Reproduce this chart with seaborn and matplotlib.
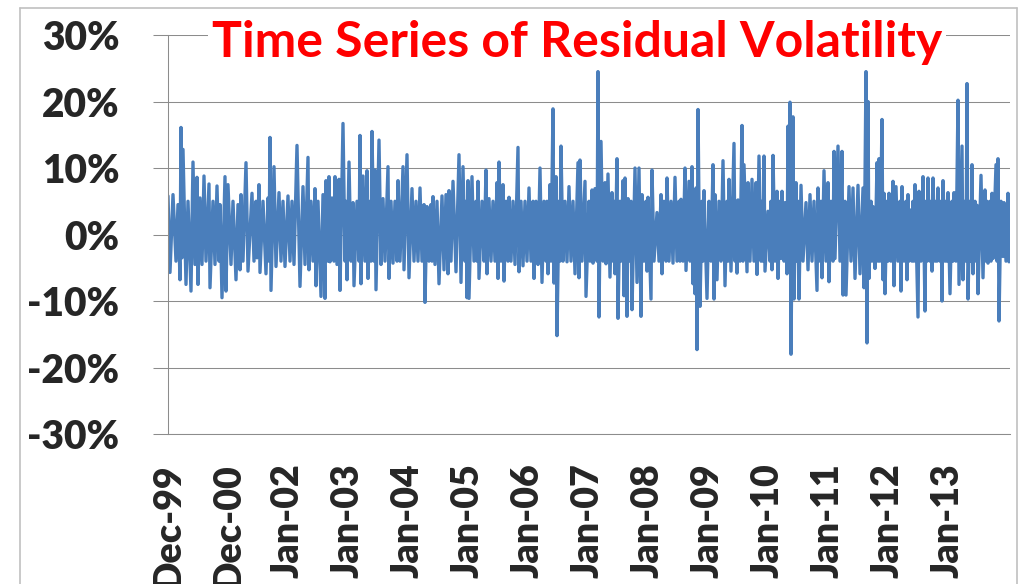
import numpy as np
import pandas as pd
import matplotlib
matplotlib.use("Agg")
import matplotlib.pyplot as plt
import seaborn as sns
from matplotlib.lines import Line2D

obs = [
    0, 8, 20, 32, 40, 48, 52, 56, 60, 72,
    80, 92, 100, 108, 116, 120, 128, 136, 144, 152,
    164, 168, 180, 188, 196, 204, 208, 216, 228, 232,
    240, 252, 260, 272, 280, 288, 292, 300, 312, 320,
    336, 344, 352, 356, 364, 368, 380, 392, 400, 404,
    408, 412, 424, 432, 444, 452, 460, 468, 480, 488,
    496, 504, 516, 528, 540, 548, 560, 564,
    572, 580, 588, 592, 600, 612, 620, 628, 632, 640,
    644, 648, 656, 664, 668, 676, 684, 688, 700, 708,
    712, 716, 724, 732, 740, 744, 756, 764, 768, 772,
    780, 788, 796, 800, 808, 812, 816, 824, 828, 832,
    844, 852, 860, 868, 880, 884, 892, 900, 908, 916,
    920, 928, 940, 944, 956, 964, 976, 984, 992, 1000,
    1008, 1016, 1024, 1028, 1036, 1044, 1052, 1056, 1060, 1068,
    1076, 1084, 1096, 1104, 1112, 1120,
    1124, 1132, 1140, 1152, 1164, 1172, 1180, 1188, 1192, 1196,
    1200, 1204, 1216, 1224, 1232, 1236, 1240, 1244, 1256, 1264,
    1272, 1276, 1284, 1292, 1300, 1308, 1316, 1320, 1324, 1332,
    1340, 1344, 1352, 1360, 1364, 1372, 1380, 1388, 1400, 1404,
    1412, 1420, 1428, 1436, 1444, 1452, 1460, 1464, 1472, 1480,
    1488, 1496, 1504, 1512, 1516, 1520, 1528, 1532, 1540, 1544,
    1552, 1556, 1564, 1568, 1572, 1580, 1588, 1596, 1604, 1612,
    1620, 1628, 1640, 1644, 1648, 1656, 1668, 1672,
    1684, 1688, 1696, 1700, 1708, 1716, 1720, 1724, 1732, 1740,
    1748, 1752, 1760, 1768, 1776, 1780, 1784, 1788, 1796, 1800,
    1808, 1812, 1820, 1824, 1828, 1836, 1840, 1848, 1852, 1856,
    1868, 1876, 1884, 1892, 1896, 1904, 1912, 1916, 1920, 1932,
    1936, 1944, 1956, 1964, 1972, 1976, 1984, 1992, 1996, 2004,
    2012, 2020, 2028, 2036, 2044, 2048, 2052, 2060, 2068, 2072,
    2084, 2088, 2096, 2100, 2104, 2108, 2112, 2116, 2120, 2128,
    2136, 2140, 2144, 2156, 2164, 2172, 2180, 2184, 2188, 2196,
    2204, 2212, 2220,
    2228, 2236, 2240, 2244, 2252, 2264, 2268, 2272, 2276, 2280,
    2288, 2296, 2300, 2304, 2316, 2320, 2328, 2336, 2344, 2352,
    2356, 2364, 2372, 2376, 2380, 2384, 2388, 2400, 2408, 2412,
    2416, 2420, 2428, 2436, 2440, 2448, 2452, 2456, 2464, 2468,
    2476, 2480, 2484, 2488, 2492, 2500, 2504, 2512, 2516, 2520,
    2524, 2532, 2540, 2552, 2560, 2568, 2576, 2584, 2596, 2600,
    2608, 2612, 2616, 2624, 2632, 2640, 2644, 2652, 2660, 2664,
    2668, 2680, 2688, 2696, 2700, 2708, 2712, 2724, 2732, 2740,
    2748, 2760, 2768, 2780, 2784, 2792, 2796, 2800, 2804,
    2812, 2816, 2820, 2828, 2836, 2840, 2844, 2848, 2856, 2860,
    2864, 2868, 2876, 2880, 2884, 2892, 2900, 2904, 2912, 2920,
    2928, 2932, 2936, 2944, 2952, 2956, 2960, 2964, 2968, 2976,
    2980, 2984, 2988, 3000, 3004, 3012, 3020, 3028, 3032, 3036,
    3040, 3048, 3052, 3056, 3060, 3068, 3072, 3076, 3080, 3088,
    3092, 3096, 3100, 3108, 3112, 3116, 3120, 3128, 3136, 3140,
    3144, 3152, 3160, 3164, 3176, 3180, 3188, 3192, 3196, 3200,
    3208, 3212, 3216, 3220, 3228, 3232, 3236, 3240, 3252, 3260,
    3268, 3272, 3276, 3280, 3288, 3292, 3296, 3300, 3312, 3316,
    3320, 3324, 3332, 3340, 3344, 3352, 3360, 3364, 3368,
]

resid = [
    5.8, -5.7, 6.0, -4.0, 4.5, -6.8, 16.1, -3.5, 12.8, -7.5,
    5.0, -8.5, 10.9, -4.5, 8.6, -7.5, 5.5, -4.5, 8.8, -4.0,
    7.6, -8.0, 5.0, -4.5, 7.3, -4.0, 4.5, -9.5, 8.7, -8.5,
    7.5, -4.5, 5.0, -6.8, 4.5, -5.3, 6.0, -4.0, 10.8, -5.5,
    6.2, -4.0, 5.0, -3.5, 7.5, -5.7, 5.0, -5.9, 5.5, -4.0,
    14.6, -8.4, 10.2, -4.8, 6.3, -4.0, 5.0, -4.8, 5.8, -4.0,
    5.0, -4.5, 13.4, -7.8, 7.2, -4.5, 11.6, -5.3,
    5.0, -4.0, 6.9, -7.7, 5.0, -9.3, 6.0, -9.6, 8.1, -4.0,
    8.7, -4.1, 5.5, -4.0, 8.7, -4.5, 8.3, -8.4, 16.7, -4.0,
    5.0, -6.8, 10.9, -4.0, 4.8, -7.7, 5.0, -4.0, 14.9, -7.4,
    8.8, -4.0, 9.6, -6.6, 5.0, -4.0, 15.5, -4.0, 9.7, -8.3,
    14.2, -4.5, 5.4, -4.0, 10.2, -6.6, 5.0, -4.3, 5.0, -4.0,
    8.1, -4.0, 10.2, -5.3, 12.0, -6.5, 6.9, -4.0, 5.0, -4.0,
    7.0, -4.0, 4.5, -10.2, 4.2, -4.0, 4.5, -4.0, 5.7, -4.5,
    5.0, -7.4, 5.8, -5.3, 6.0, -5.9,
    6.6, -4.0, 8.0, -5.6, 12.0, -7.2, 10.2, -4.0, 5.0, -9.5,
    8.1, -9.6, 8.7, -4.0, 5.0, -4.0, 8.0, -6.6, 5.0, -4.0,
    9.7, -5.9, 5.4, -4.0, 5.0, -4.0, 7.8, -6.6, 10.9, -4.0,
    7.5, -7.0, 5.0, -4.0, 5.6, -4.0, 5.0, -4.5, 13.1, -5.6,
    5.0, -4.7, 5.0, -4.0, 7.0, -4.0, 5.0, -6.6, 5.0, -4.5,
    10.0, -7.2, 5.0, -4.0, 5.0, -5.9, 7.5, -4.0, 18.9, -7.3,
    8.7, -15.2, 5.0, -4.0, 13.3, -4.0, 5.0, -4.1, 7.2, -4.0,
    5.0, -5.9, 10.8, -6.5, 11.2, -4.0, 8.0, -9.3,
    5.0, -4.0, 6.7, -4.3, 6.9, -4.0, 24.5, -12.4, 14.0, -4.0,
    7.8, -4.4, 9.1, -6.4, 6.3, -4.0, 5.0, -5.9, 11.4, -12.6,
    5.0, -4.0, 8.1, -9.2, 8.5, -12.3, 5.4, -4.0, 5.0, -11.3,
    10.0, -7.2, 10.0, -12.3, 6.0, -4.0, 5.0, -5.5, 5.6, -9.7,
    9.7, -4.0, 3.3, -4.0, 6.0, -5.9, 5.0, -4.0, 8.5, -4.0,
    5.0, -4.3, 8.6, -4.0, 5.0, -4.0, 5.3, -4.0, 10.0, -5.4,
    8.0, -4.0, 10.2, -7.4, 6.0, -8.9, 7.0, -17.3, 18.8, -10.8,
    5.0, -4.0, 6.6, -9.6, 5.0, -4.0, 10.5, -9.7, 6.0, -6.8,
    5.0, -4.0, 11.1,
    -7.7, 5.0, -4.0, 8.3, -5.5, 13.7, -4.0, 5.0, -5.8, 5.2,
    -4.0, 16.4, -4.0, 10.5, -5.6, 7.8, -4.0, 8.3, -4.0, 7.8,
    -6.0, 11.8, -4.0, 5.0, -4.0, 11.8, -5.5, 3.5, -4.0, 5.0,
    -5.3, 11.9, -4.0, 6.5, -6.6, 5.0, -3.6, 6.5, -4.0, 4.8,
    -5.9, 16.3, -4.0, 19.9, -18.0, 17.7, -9.7, 7.8, -4.0, 5.0,
    -9.7, 7.4, -4.0, 4.8, -5.3, 6.0, -4.0, 5.0, -8.4, 7.0,
    -4.0, 5.0, -6.5, 9.6, -4.0, 7.8, -7.1, 5.0, -4.0, 12.5,
    -3.6, 13.3, -4.0, 12.5, -9.1, 5.0, -9.1, 7.2, -4.0, 7.0,
    -6.6, 7.4, -5.9, 7.0, -8.0, 24.5, -16.3, 20.0, -6.6,
    5.0, -4.0, 4.2, -5.1, 10.8, -4.0, 11.4, -4.0, 17.3, -6.8,
    6.2, -8.9, 5.0, -4.0, 6.2, -4.0, 8.0, -7.7, 7.2, -4.0,
    5.0, -8.5, 7.2, -4.0, 5.0, -6.8, 6.0, -4.0, 3.7, -4.0,
    5.0, -4.0, 7.5, -12.4, 6.5, -4.0, 8.7, -11.5, 5.0, -4.0,
    8.5, -4.0, 5.0, -5.5, 8.5, -4.0, 5.0, -4.0, 7.0, -4.0,
    5.0, -10.0, 8.1, -4.0, 5.0, -4.0, 6.3, -8.9, 5.0, -4.0,
    6.3, -4.0, 20.2, -7.5, 13.3, -6.8, 5.0, -4.0, 22.7, -9.7,
    5.0, -4.0, 10.5, -5.9, 5.0, -4.0, 4.4, -8.9, 8.9, -6.5,
    6.7, -4.0, 5.0, -4.3, 5.0, -4.0, 6.2, -3.6, 10.5, -4.0,
    11.4, -13.0, 5.0, -3.3, 4.8, -4.0, 6.2, -4.1, 1.5,
]

tick_labels = ["Dec-99", "Dec-00", "Jan-02", "Jan-03", "Jan-04", "Jan-05", "Jan-06",
               "Jan-07", "Jan-08", "Jan-09", "Jan-10", "Jan-11", "Jan-12", "Jan-13"]
label_every = 240          # one category label every 240 observations
y_ticks = [-30, -20, -10, 0, 10, 20, 30]

sns.set_style("white")
plt.rcParams["font.family"] = ["Lato", "DejaVu Sans"]

grid_grey = "#8c8c8c"

fig = plt.figure(figsize=(10.2, 5.84), dpi=100)
ax = fig.add_axes([0.1647, 0.2568, 0.8255, 0.6832])

df = pd.DataFrame({"obs": obs, "resid": resid})
sns.lineplot(data=df, x="obs", y="resid", ax=ax, color="#4A7EBB",
             linewidth=2.4, estimator=None, sort=False)

ax.set_xlim(0, df["obs"].max())
ax.set_ylim(y_ticks[0], y_ticks[-1])
ax.set_axisbelow(True)

ax.set_yticks(y_ticks)
ax.set_yticklabels([f"{v}%" for v in y_ticks], fontsize=28, fontweight="heavy")
ax.yaxis.grid(True, color=grid_grey, linewidth=0.75)
ax.xaxis.grid(False)

ax.set_xticks(np.arange(len(tick_labels)) * label_every)
ax.set_xticklabels(tick_labels, rotation=90, fontsize=27, fontweight="heavy")

ax.tick_params(axis="x", length=0, pad=21)
ax.tick_params(axis="y", length=11, width=0.75, color=grid_grey, pad=24, left=True)

for side in ["top", "right"]:
    ax.spines[side].set_visible(False)
for side in ["left", "bottom"]:
    ax.spines[side].set_color(grid_grey)
    ax.spines[side].set_linewidth(0.75)

ax.set_xlabel("")
ax.set_ylabel("")

ax.text(0.486, 0.945, "Time Series of Residual Volatility", transform=ax.transAxes,
        ha="center", va="baseline", color="#FF0000", fontsize=36, fontweight="bold",
        bbox=dict(facecolor="white", edgecolor="none", pad=3))

# outer chart-area border (bottom edge falls outside the picture)
frame_kw = dict(transform=fig.transFigure, color="#c0c0c0", linewidth=1.2)
fig.lines.append(Line2D([20 / 1020, 20 / 1020], [0, 1 - 8 / 584], **frame_kw))
fig.lines.append(Line2D([20 / 1020, 1017 / 1020], [1 - 8 / 584, 1 - 8 / 584], **frame_kw))
fig.lines.append(Line2D([1017 / 1020, 1017 / 1020], [0, 1 - 8 / 584], **frame_kw))

fig.savefig("out.png", dpi=100)
